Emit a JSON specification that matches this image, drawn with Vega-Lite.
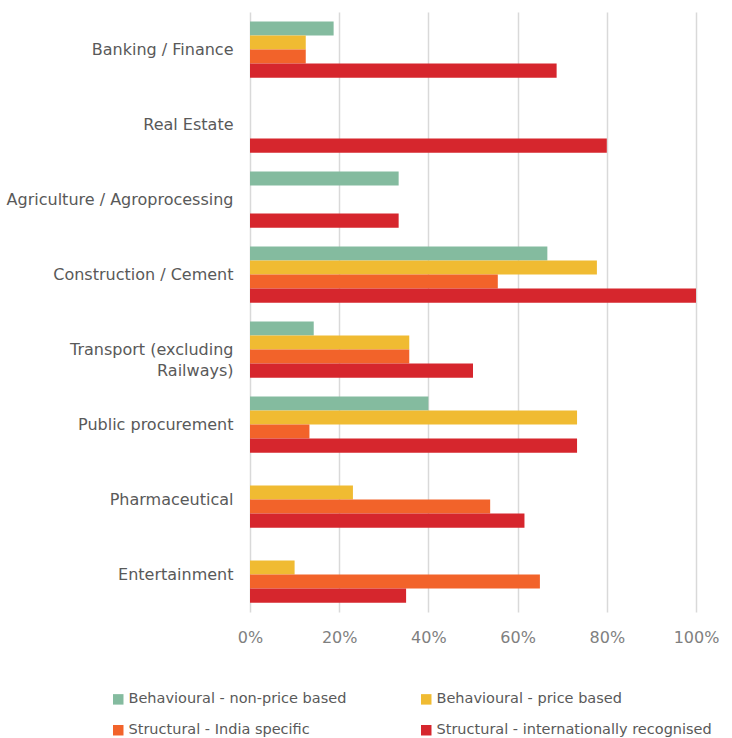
{
  "$schema": "https://vega.github.io/schema/vega-lite/v6.json",
  "width": 446,
  "height": 600,
  "autosize": {"type": "none"},
  "padding": {"left": 250, "top": 12, "right": 36, "bottom": 126},
  "background": "white",
  "config": {
    "view": {"stroke": null},
    "font": "DejaVu Sans",
    "axis": {"labelFont": "DejaVu Sans", "labelColor": "#595959", "labelFontSize": 16},
    "legend": {"labelFont": "DejaVu Sans", "labelColor": "#595959", "labelFontSize": 14.5}
  },
  "data": {
    "values": [
      {"sector": "Banking / Finance", "type": "Behavioural - non-price based", "value": 0.1875},
      {"sector": "Banking / Finance", "type": "Behavioural - price based", "value": 0.125},
      {"sector": "Banking / Finance", "type": "Structural - India specific", "value": 0.125},
      {"sector": "Banking / Finance", "type": "Structural - internationally recognised", "value": 0.6875},
      {"sector": "Real Estate", "type": "Behavioural - non-price based", "value": 0},
      {"sector": "Real Estate", "type": "Behavioural - price based", "value": 0},
      {"sector": "Real Estate", "type": "Structural - India specific", "value": 0},
      {"sector": "Real Estate", "type": "Structural - internationally recognised", "value": 0.8},
      {"sector": "Agriculture / Agroprocessing", "type": "Behavioural - non-price based", "value": 0.3333},
      {"sector": "Agriculture / Agroprocessing", "type": "Behavioural - price based", "value": 0},
      {"sector": "Agriculture / Agroprocessing", "type": "Structural - India specific", "value": 0},
      {"sector": "Agriculture / Agroprocessing", "type": "Structural - internationally recognised", "value": 0.3333},
      {"sector": "Construction / Cement", "type": "Behavioural - non-price based", "value": 0.6667},
      {"sector": "Construction / Cement", "type": "Behavioural - price based", "value": 0.7778},
      {"sector": "Construction / Cement", "type": "Structural - India specific", "value": 0.5556},
      {"sector": "Construction / Cement", "type": "Structural - internationally recognised", "value": 1.0},
      {"sector": "Transport (excluding Railways)", "type": "Behavioural - non-price based", "value": 0.1429},
      {"sector": "Transport (excluding Railways)", "type": "Behavioural - price based", "value": 0.3571},
      {"sector": "Transport (excluding Railways)", "type": "Structural - India specific", "value": 0.3571},
      {"sector": "Transport (excluding Railways)", "type": "Structural - internationally recognised", "value": 0.5},
      {"sector": "Public procurement", "type": "Behavioural - non-price based", "value": 0.4},
      {"sector": "Public procurement", "type": "Behavioural - price based", "value": 0.7333},
      {"sector": "Public procurement", "type": "Structural - India specific", "value": 0.1333},
      {"sector": "Public procurement", "type": "Structural - internationally recognised", "value": 0.7333},
      {"sector": "Pharmaceutical", "type": "Behavioural - non-price based", "value": 0},
      {"sector": "Pharmaceutical", "type": "Behavioural - price based", "value": 0.2308},
      {"sector": "Pharmaceutical", "type": "Structural - India specific", "value": 0.5385},
      {"sector": "Pharmaceutical", "type": "Structural - internationally recognised", "value": 0.6154},
      {"sector": "Entertainment", "type": "Behavioural - non-price based", "value": 0},
      {"sector": "Entertainment", "type": "Behavioural - price based", "value": 0.1},
      {"sector": "Entertainment", "type": "Structural - India specific", "value": 0.65},
      {"sector": "Entertainment", "type": "Structural - internationally recognised", "value": 0.35}
    ]
  },
  "mark": {"type": "bar"},
  "encoding": {
    "y": {
      "field": "sector",
      "type": "nominal",
      "sort": ["Banking / Finance", "Real Estate", "Agriculture / Agroprocessing", "Construction / Cement", "Transport (excluding Railways)", "Public procurement", "Pharmaceutical", "Entertainment"],
      "scale": {"paddingInner": 0.25, "paddingOuter": 0.125},
      "axis": {
        "title": null,
        "domain": false,
        "ticks": false,
        "labelPadding": 17,
        "labelLimit": 300,
        "labelLineHeight": 21,
        "labelExpr": "datum.value == 'Transport (excluding Railways)' ? ['Transport (excluding', 'Railways)'] : datum.value"
      }
    },
    "yOffset": {
      "field": "type",
      "type": "nominal",
      "sort": ["Behavioural - non-price based", "Behavioural - price based", "Structural - India specific", "Structural - internationally recognised"]
    },
    "x": {
      "field": "value",
      "type": "quantitative",
      "scale": {"domain": [0, 1], "nice": false},
      "axis": {
        "title": null,
        "format": ".0%",
        "values": [0, 0.2, 0.4, 0.6, 0.8, 1.0],
        "domain": false,
        "ticks": false,
        "grid": true,
        "gridColor": "#d9d9d9",
        "gridWidth": 1.5,
        "labelColor": "#7f7f7f",
        "labelFlush": false,
        "labelPadding": 17
      }
    },
    "color": {
      "field": "type",
      "type": "nominal",
      "sort": ["Behavioural - non-price based", "Behavioural - price based", "Structural - India specific", "Structural - internationally recognised"],
      "scale": {
        "domain": ["Behavioural - non-price based", "Behavioural - price based", "Structural - India specific", "Structural - internationally recognised"],
        "range": ["#84BB9F", "#F0BB32", "#F2632A", "#D6262D"]
      },
      "legend": {
        "title": null,
        "orient": "none",
        "legendX": -139,
        "legendY": 680,
        "direction": "horizontal",
        "columns": 2,
        "columnPadding": 72,
        "rowPadding": 16,
        "symbolType": "square",
        "symbolSize": 110,
        "symbolStrokeWidth": 0,
        "labelOffset": 3,
        "labelLimit": 400
      }
    }
  }
}
